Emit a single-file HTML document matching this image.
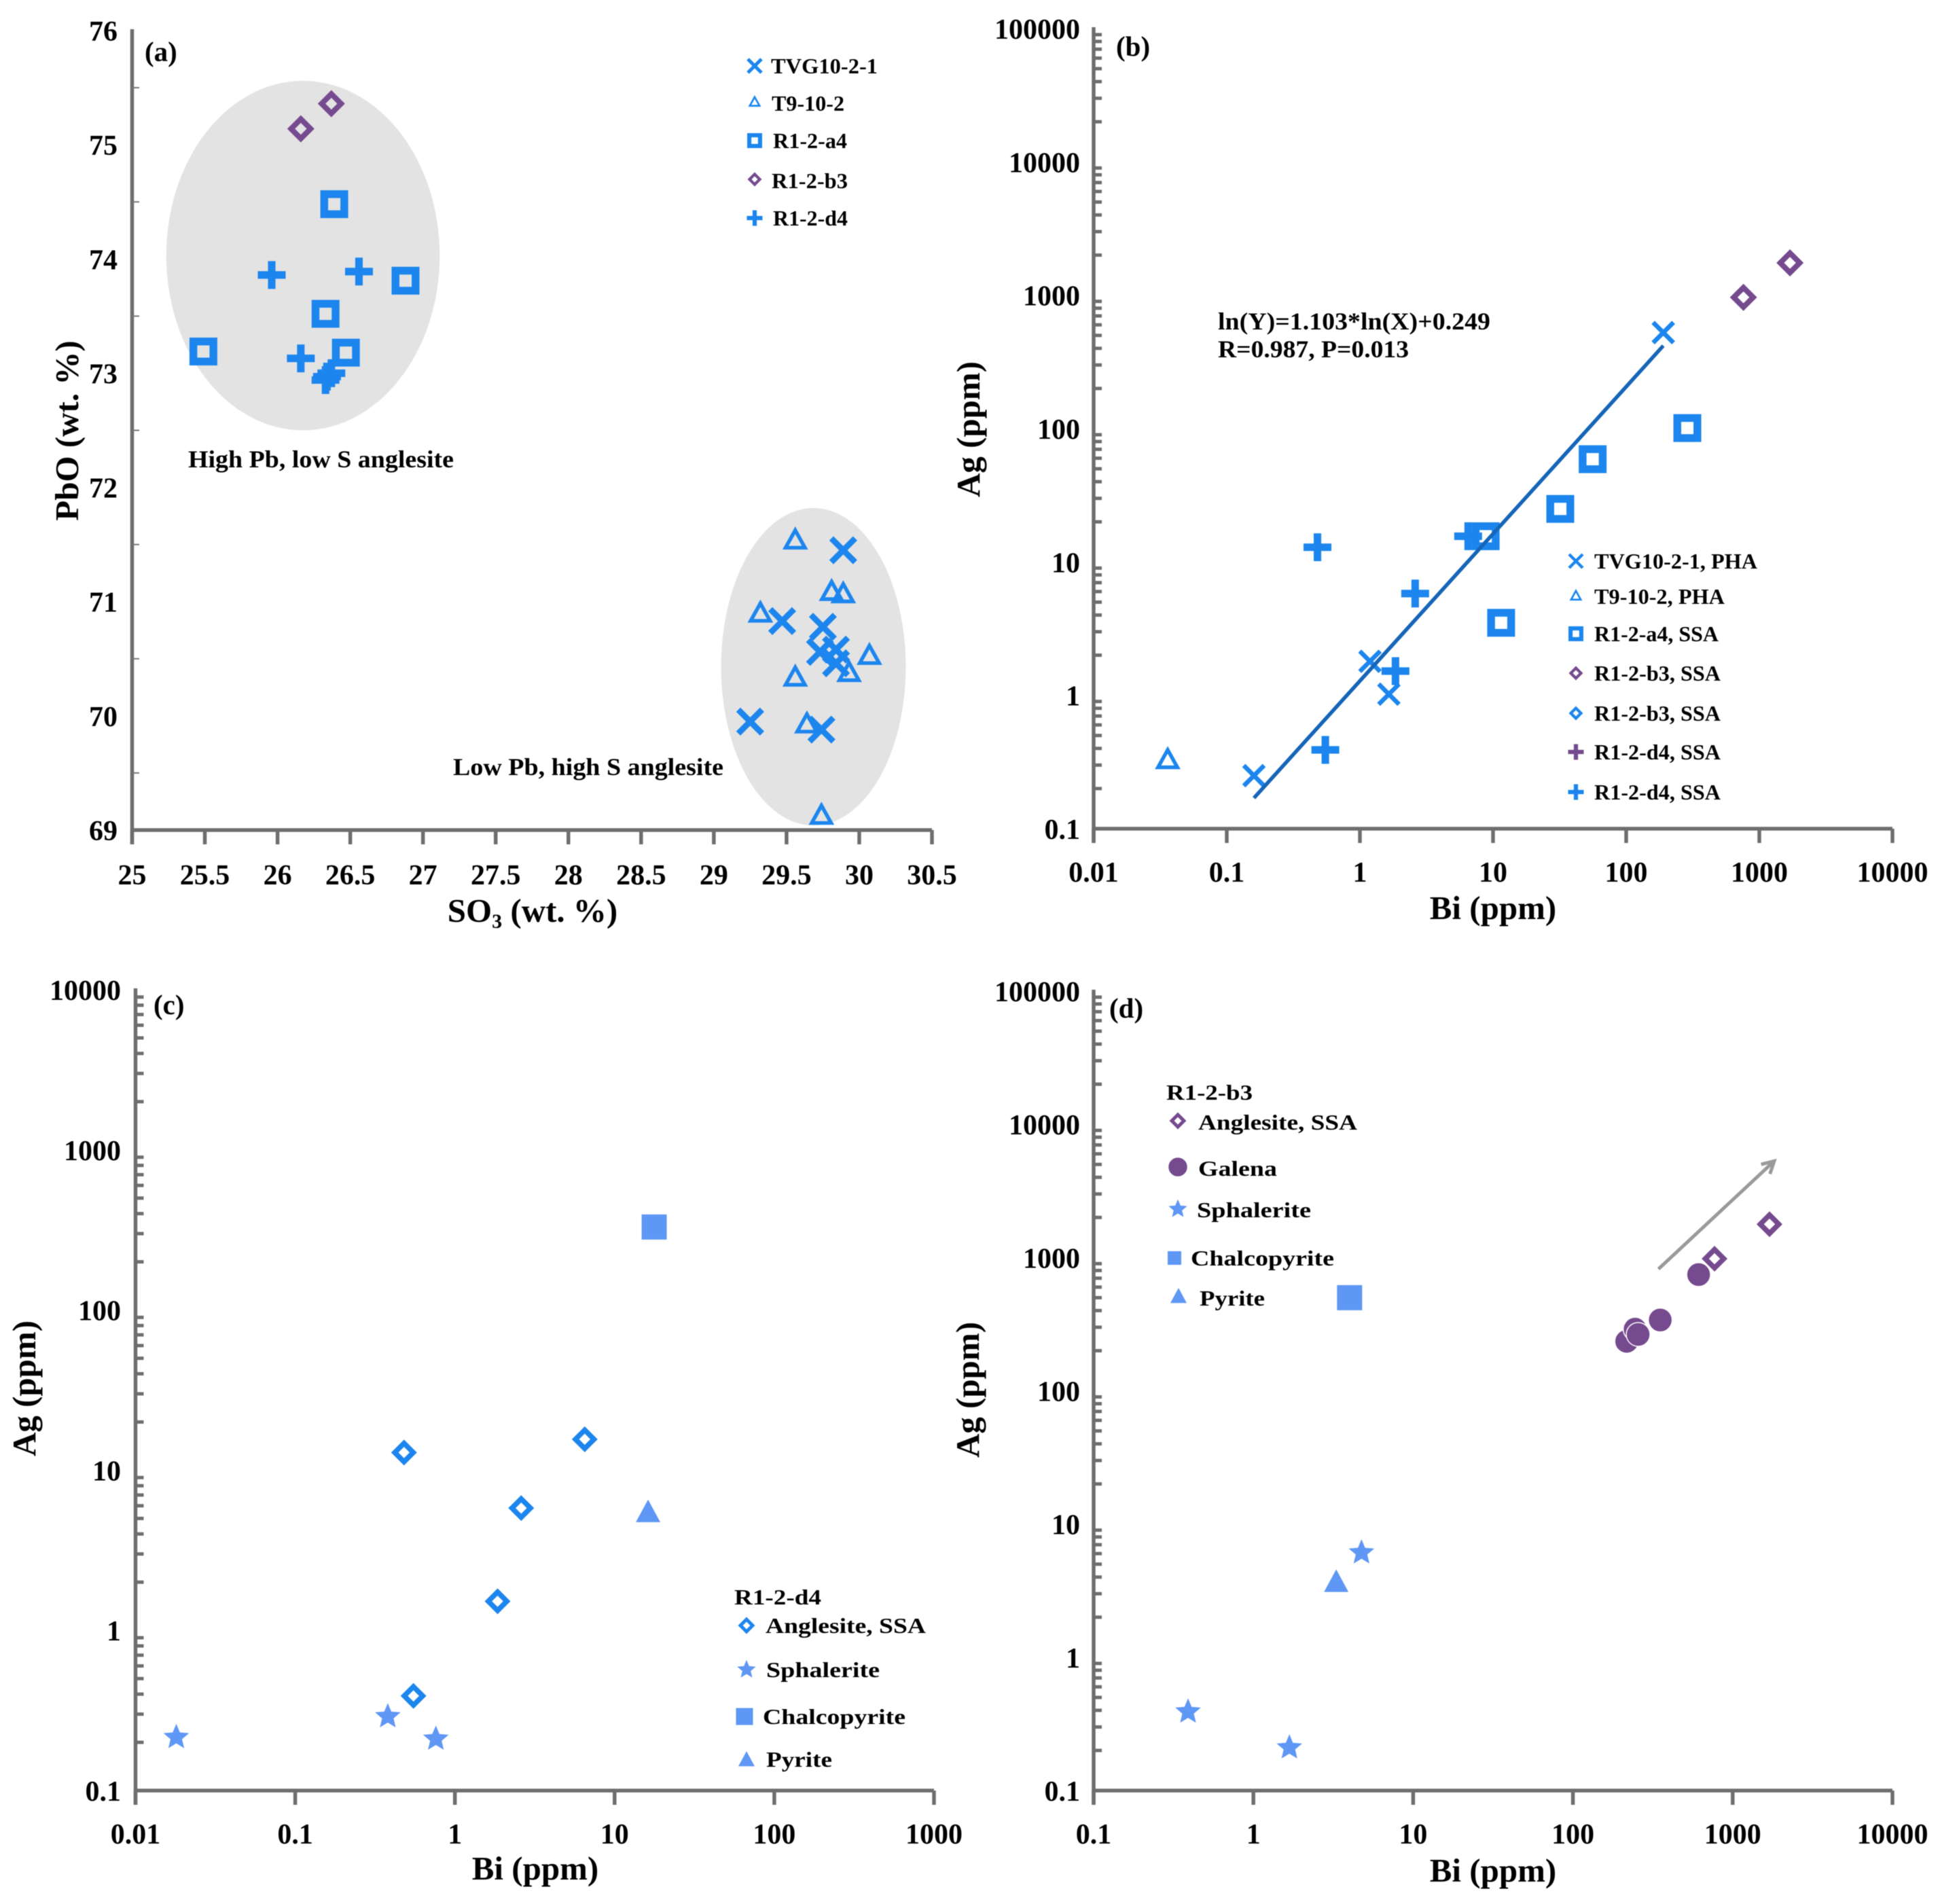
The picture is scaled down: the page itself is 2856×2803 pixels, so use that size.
<!DOCTYPE html>
<html lang="en">
<head>
<meta charset="utf-8">
<title>Anglesite geochemistry scatter plots</title>
<style>
html,body{margin:0;padding:0;background:#fff;}
svg{display:block;filter:blur(0.6px);}
text{font-family:"Liberation Serif","Times New Roman",serif;fill:#000;font-weight:bold;}
.tick{font-size:42px;}
.title{font-size:49px;}
.lab{font-size:41px;}
.leg{font-size:32px;}
.ann{font-size:36px;}
</style>
</head>
<body>
<svg id="fig" xmlns="http://www.w3.org/2000/svg" width="2856" height="2803" viewBox="0 0 2856 2803">
<rect width="2856" height="2803" fill="#fff"/>
<g id="marks"></g>

<g>
<text class="lab" x="213" y="90">(a)</text>
<text class="title" x="784" y="1357" text-anchor="middle">SO<tspan font-size="30" dy="9">3</tspan><tspan dy="-9"> (wt. %)</tspan></text>
<text class="title" transform="translate(115,634) rotate(-90)" text-anchor="middle">PbO (wt. %)</text>
<text class="ann" x="277" y="688" textLength="391" lengthAdjust="spacingAndGlyphs">High Pb, low S anglesite</text>
<text class="ann" x="667" y="1141" textLength="398" lengthAdjust="spacingAndGlyphs">Low Pb, high S anglesite</text>
<text class="leg" x="1135" y="108" textLength="157" lengthAdjust="spacingAndGlyphs">TVG10-2-1</text>
<text class="leg" x="1136" y="163" textLength="107" lengthAdjust="spacingAndGlyphs">T9-10-2</text>
<text class="leg" x="1138" y="218" textLength="109" lengthAdjust="spacingAndGlyphs">R1-2-a4</text>
<text class="leg" x="1136" y="277" textLength="112" lengthAdjust="spacingAndGlyphs">R1-2-b3</text>
<text class="leg" x="1138" y="332" textLength="110" lengthAdjust="spacingAndGlyphs">R1-2-d4</text>
</g>

<g>
<text class="lab" x="1643" y="82">(b)</text>
<text class="title" x="2198" y="1353" text-anchor="middle">Bi (ppm)</text>
<text class="title" transform="translate(1442,632) rotate(-90)" text-anchor="middle">Ag (ppm)</text>
<text class="ann" x="1793" y="485" textLength="401" lengthAdjust="spacingAndGlyphs">ln(Y)=1.103*ln(X)+0.249</text>
<text class="ann" x="1793" y="526" textLength="281" lengthAdjust="spacingAndGlyphs">R=0.987, P=0.013</text>
<text class="leg" x="2347" y="837" textLength="240" lengthAdjust="spacingAndGlyphs">TVG10-2-1, PHA</text>
<text class="leg" x="2347" y="889" textLength="192" lengthAdjust="spacingAndGlyphs">T9-10-2, PHA</text>
<text class="leg" x="2347" y="944" textLength="183" lengthAdjust="spacingAndGlyphs">R1-2-a4, SSA</text>
<text class="leg" x="2347" y="1002" textLength="186" lengthAdjust="spacingAndGlyphs">R1-2-b3, SSA</text>
<text class="leg" x="2347" y="1061" textLength="186" lengthAdjust="spacingAndGlyphs">R1-2-b3, SSA</text>
<text class="leg" x="2347" y="1118" textLength="186" lengthAdjust="spacingAndGlyphs">R1-2-d4, SSA</text>
<text class="leg" x="2347" y="1177" textLength="186" lengthAdjust="spacingAndGlyphs">R1-2-d4, SSA</text>
</g>

<g>
<text class="lab" x="226" y="1493">(c)</text>
<text class="title" x="788" y="2767" text-anchor="middle">Bi (ppm)</text>
<text class="title" transform="translate(52,2044) rotate(-90)" text-anchor="middle">Ag (ppm)</text>
<text class="leg" x="1081" y="2362" textLength="128" lengthAdjust="spacingAndGlyphs">R1-2-d4</text>
<text class="leg" x="1127" y="2404" textLength="236" lengthAdjust="spacingAndGlyphs">Anglesite, SSA</text>
<text class="leg" x="1128" y="2469" textLength="167" lengthAdjust="spacingAndGlyphs">Sphalerite</text>
<text class="leg" x="1123" y="2538" textLength="210" lengthAdjust="spacingAndGlyphs">Chalcopyrite</text>
<text class="leg" x="1128" y="2601" textLength="97" lengthAdjust="spacingAndGlyphs">Pyrite</text>
</g>

<g>
<text class="lab" x="1633" y="1498">(d)</text>
<text class="title" x="2198" y="2770" text-anchor="middle">Bi (ppm)</text>
<text class="title" transform="translate(1441,2046) rotate(-90)" text-anchor="middle">Ag (ppm)</text>
<text class="leg" x="1717" y="1619" textLength="127" lengthAdjust="spacingAndGlyphs">R1-2-b3</text>
<text class="leg" x="1764" y="1663" textLength="234" lengthAdjust="spacingAndGlyphs">Anglesite, SSA</text>
<text class="leg" x="1764" y="1731" textLength="116" lengthAdjust="spacingAndGlyphs">Galena</text>
<text class="leg" x="1762" y="1792" textLength="168" lengthAdjust="spacingAndGlyphs">Sphalerite</text>
<text class="leg" x="1753" y="1863" textLength="211" lengthAdjust="spacingAndGlyphs">Chalcopyrite</text>
<text class="leg" x="1766" y="1922" textLength="96" lengthAdjust="spacingAndGlyphs">Pyrite</text>
</g>
</svg>

<script>
// ---- Panel (a) data: SO3 vs PbO ----
const aTicksX = [25, 25.5, 26, 26.5, 27, 27.5, 28, 28.5, 29, 29.5, 30, 30.5];
const aTicksY = [69, 70, 71, 72, 73, 74, 75, 76];
const aMinorY = [69.5, 70.5, 71.5, 72.5, 73.5, 74.5, 75.5];
const aTvgX = [29.89, 29.47, 29.75, 29.73, 29.84, 29.84, 29.25, 29.74];
const aTvgY = [71.45, 70.83, 70.78, 70.56, 70.58, 70.46, 69.95, 69.88];
const aT9X = [29.56, 29.81, 29.89, 29.32, 30.07, 29.93, 29.56, 29.64, 29.74];
const aT9Y = [71.54, 71.09, 71.07, 70.90, 70.53, 70.38, 70.34, 69.93, 69.13];
const aA4X = [25.49, 26.39, 26.88, 26.33, 26.47];
const aA4Y = [73.19, 74.48, 73.81, 73.52, 73.18];
const aB3X = [26.16, 26.37];
const aB3Y = [75.14, 75.36];
const aD4X = [25.96, 26.56, 26.16, 26.37, 26.34, 26.33];
const aD4Y = [73.86, 73.89, 73.13, 73.0, 72.97, 72.94];
const aFieldCx = [26.175, 29.685];
const aFieldCy = [74.03, 70.43];
const aFieldRx = [0.94, 0.635];
const aFieldRy = [1.53, 1.39];

// ---- Panel (b) data: Bi vs Ag ----
const bTicksX = [0.01, 0.1, 1, 10, 100, 1000, 10000];
const bTicksY = [0.1, 1, 10, 100, 1000, 10000, 100000];
const bTvgX = [190, 1.19, 1.65, 0.16];
const bTvgY = [525, 1.8, 1.02, 0.25];
const bT9X = [0.036];
const bT9Y = [0.33];
const bA4X = [288, 56, 32, 8.8, 11.5];
const bA4Y = [101, 59, 25, 15.6, 3.5];
const bB3X = [760, 1700];
const bB3Y = [965, 1750];
const bD4X = [0.48, 0.55, 1.85, 2.6, 6.5];
const bD4Y = [12.9, 0.39, 1.52, 5.8, 15.6];
const bTrendX = [0.16, 190];
const bTrendSlope = 1.103;
const bTrendIntercept = 0.249;

// ---- Panel (c) data: R1-2-d4 ----
const cTicksX = [0.01, 0.1, 1, 10, 100, 1000];
const cTicksY = [0.1, 1, 10, 100, 1000, 10000];
const cAngX = [0.48, 0.55, 1.85, 2.6, 6.5];
const cAngY = [12.9, 0.39, 1.52, 5.8, 15.6];
const cSphX = [0.018, 0.38, 0.76];
const cSphY = [0.215, 0.29, 0.21];
const cCcpX = [17.7];
const cCcpY = [330];
const cPyX = [16.2];
const cPyY = [5.5];

// ---- Panel (d) data: R1-2-b3 ----
const dTicksX = [0.1, 1, 10, 100, 1000, 10000];
const dTicksY = [0.1, 1, 10, 100, 1000, 10000, 100000];
const dAngX = [770, 1700];
const dAngY = [980, 1780];
const dGnX = [612, 352, 217, 245, 256];
const dGnY = [745, 340, 235, 290, 265];
const dSphX = [4.75, 0.39, 1.68];
const dSphY = [6.1, 0.39, 0.21];
const dCcpX = [4.0];
const dCcpY = [500];
const dPyX = [3.3];
const dPyY = [3.7];
const dArrowX = [343, 1820];
const dArrowY = [820, 5300];

// ---- Colours ----
const BLUE = '#1c86ee', PURPLE = '#764a8e', LIGHT = '#5f97f5', AXIS = '#6e6e6e', TREND = '#1565b8', FIELD = '#e3e3e3';

const NS = 'http://www.w3.org/2000/svg';
const root = document.getElementById('marks');

function make(tag, attrs, parent) {
  const el = document.createElementNS(NS, tag);
  for (const k in attrs) el.setAttribute(k, attrs[k]);
  (parent || root).appendChild(el);
  return el;
}

function linScale(d0, d1, p0, p1) {
  return v => p0 + (v - d0) / (d1 - d0) * (p1 - p0);
}
function logScale(d0, d1, p0, p1) {
  return v => p0 + (Math.log10(v) - Math.log10(d0)) / (Math.log10(d1) - Math.log10(d0)) * (p1 - p0);
}

function axisLine(x1, y1, x2, y2, w, color) {
  const el = make('line', {x1: x1, y1: y1, x2: x2, y2: y2, stroke: color || AXIS, 'stroke-width': w});
  
  
  return el;
}
function tickMark(x1, y1, x2, y2, w, color) {
  const el = make('line', {x1: x1, y1: y1, x2: x2, y2: y2, stroke: color || AXIS, 'stroke-width': w});
  
  
  return el;
}
function tickText(x, y, anchor, value) {
  const el = make('text', {x: x, y: y, 'text-anchor': anchor, class: 'tick'});
  el.textContent = String(value);
  
  
  return el;
}

function drawAxes(px0, px1, py0, pyTop, sx, sy, ticksX, ticksY, labelRight, labelBase) {
  axisLine(px0, pyTop - 2, px0, py0 + 21, 5.5);
  axisLine(px0, py0, px1, py0, 5.5);
  ticksX.forEach(v => {
    tickMark(sx(v), py0, sx(v), py0 + 21, 5.5);
    tickText(sx(v), labelBase, 'middle', v);
  });
  ticksY.forEach(v => {
    tickText(labelRight, sy(v) + 15, 'end', v);
  });
}
function drawLogMinors(px0, sy, ticksY) {
  ticksY.slice(0, -1).forEach(dec => {
    [2, 3, 4, 5, 6, 7, 8, 9].forEach(m => {
      const yy = sy(dec * m);
      tickMark(px0, yy, px0 + 12, yy, 5);
    });
  });
}

function marker(kind, cx, cy, s, color, name) {
  let el;
  if (kind === 'cross') {
    const r = s * 0.5, w = s * 0.25;
    el = make('path', {d: `M${cx - r} ${cy - r}L${cx + r} ${cy + r}M${cx - r} ${cy + r}L${cx + r} ${cy - r}`, stroke: color, 'stroke-width': w, fill: 'none'});
  } else if (kind === 'crossThin') {
    const r = s * 0.5, w = s * 0.22;
    el = make('path', {d: `M${cx - r} ${cy - r}L${cx + r} ${cy + r}M${cx - r} ${cy + r}L${cx + r} ${cy - r}`, stroke: color, 'stroke-width': w, fill: 'none'});
  } else if (kind === 'plus') {
    const r = s * 0.5, w = s * 0.27;
    el = make('path', {d: `M${cx - r} ${cy}L${cx + r} ${cy}M${cx} ${cy - r}L${cx} ${cy + r}`, stroke: color, 'stroke-width': w, fill: 'none'});
  } else if (kind === 'square') {
    const w = s * 0.28, m = s - w;
    el = make('rect', {x: cx - m / 2, y: cy - m / 2, width: m, height: m, stroke: color, 'stroke-width': w, fill: 'none'});
  } else if (kind === 'diamond') {
    const w = s * 0.2, r = s * 0.5 - w * 0.707;
    el = make('polygon', {points: `${cx},${cy - r} ${cx + r},${cy} ${cx},${cy + r} ${cx - r},${cy}`, stroke: color, 'stroke-width': w, fill: 'none'});
  } else if (kind === 'triangle') {
    const w = s * 0.16, r = s * 0.42;
    el = make('polygon', {points: `${cx},${cy - r} ${cx + r},${cy + r * 0.8} ${cx - r},${cy + r * 0.8}`, stroke: color, 'stroke-width': w, fill: 'none'});
  } else if (kind === 'solidTriangle') {
    const r = s * 0.5;
    el = make('polygon', {points: `${cx},${cy - r} ${cx + r},${cy + r * 0.85} ${cx - r},${cy + r * 0.85}`, fill: color});
  } else if (kind === 'solidSquare') {
    el = make('rect', {x: cx - s / 2, y: cy - s / 2, width: s, height: s, fill: color});
  } else if (kind === 'circle') {
    el = make('circle', {cx: cx, cy: cy, r: s / 2, fill: color, stroke: '#fff', 'stroke-width': 1.5});
  } else {
    const pts = [];
    for (let i = 0; i < 10; i++) {
      const r = i % 2 ? s * 0.27 : s * 0.6;
      const a = -Math.PI / 2 + i * Math.PI / 5;
      pts.push((cx + r * Math.cos(a)).toFixed(1) + ',' + (cy + r * Math.sin(a)).toFixed(1));
    }
    el = make('polygon', {points: pts.join(' '), fill: color});
  }
  
  
  return el;
}

function series(kind, xs, ys, sx, sy, s, color, name) {
  xs.forEach((v, i) => marker(kind, sx(v), sy(ys[i]), s, color, name));
}

// ---- Panel (a) ----
const ax = linScale(25, 30.5, 194.5, 1372);
const ay = linScale(69, 76, 1222, 45);
aFieldCx.forEach((c, i) => {
  const el = make('ellipse', {
    cx: ax(c),
    cy: ay(aFieldCy[i]),
    rx: ax(c + aFieldRx[i]) - ax(c),
    ry: ay(aFieldCy[i]) - ay(aFieldCy[i] + aFieldRy[i]),
    fill: FIELD
  });
  
  
});
drawAxes(194.5, 1372, 1222, 45, ax, ay, aTicksX, aTicksY, 173, 1302);
aMinorY.forEach(v => tickMark(194.5, ay(v), 205, ay(v), 2, '#777'));
series('square', aA4X, aA4Y, ax, ay, 41, BLUE, 'a-point-r1-2-a4');
series('diamond', aB3X, aB3Y, ax, ay, 40, PURPLE, 'a-point-r1-2-b3');
series('plus', aD4X, aD4Y, ax, ay, 41, BLUE, 'a-point-r1-2-d4');
series('cross', aTvgX, aTvgY, ax, ay, 35, BLUE, 'a-point-tvg10-2-1');
series('triangle', aT9X, aT9Y, ax, ay, 34, BLUE, 'a-point-t9-10-2');
marker('cross', 1111, 97, 20, BLUE, 'legend-a-tvg-marker');
marker('triangle', 1111, 150, 17, BLUE, 'legend-a-t9-marker');
marker('square', 1111, 207, 22, BLUE, 'legend-a-a4-marker');
marker('diamond', 1111, 264, 21, PURPLE, 'legend-a-b3-marker');
marker('plus', 1111, 321, 23, BLUE, 'legend-a-d4-marker');

// ---- Panel (b) ----
const bx = logScale(0.01, 10000, 1610, 2786);
const by = logScale(0.1, 100000, 1220, 42);
drawAxes(1610, 2786, 1220, 42, bx, by, bTicksX, bTicksY, 1590, 1298);
drawLogMinors(1610, by, bTicksY);
series('plus', bD4X, bD4Y, bx, by, 41, BLUE, 'b-point-r1-2-d4');
series('square', bA4X, bA4Y, bx, by, 41, BLUE, 'b-point-r1-2-a4');
series('diamond', bB3X, bB3Y, bx, by, 40, PURPLE, 'b-point-r1-2-b3');
series('crossThin', bTvgX, bTvgY, bx, by, 30, BLUE, 'b-point-tvg10-2-1');
series('triangle', bT9X, bT9Y, bx, by, 34, BLUE, 'b-point-t9-10-2');
const trendLine = make('line', {
  x1: bx(bTrendX[0]),
  y1: by(Math.exp(bTrendSlope * Math.log(bTrendX[0]) + bTrendIntercept)),
  x2: bx(bTrendX[1]),
  y2: by(Math.exp(bTrendSlope * Math.log(bTrendX[1]) + bTrendIntercept)),
  stroke: TREND,
  'stroke-width': 5.5
});


marker('crossThin', 2320, 826, 20, BLUE, 'legend-b-tvg-marker');
marker('triangle', 2320, 877, 17, BLUE, 'legend-b-t9-marker');
marker('square', 2320, 933, 22, BLUE, 'legend-b-a4-marker');
marker('diamond', 2320, 991, 21, PURPLE, 'legend-b-b3-purple-marker');
marker('diamond', 2320, 1050, 21, BLUE, 'legend-b-b3-blue-marker');
marker('plus', 2320, 1107, 23, PURPLE, 'legend-b-d4-purple-marker');
marker('plus', 2320, 1166, 23, BLUE, 'legend-b-d4-blue-marker');

// ---- Panel (c) ----
const cx_ = logScale(0.01, 1000, 199.5, 1375);
const cy_ = logScale(0.1, 10000, 2636, 1457);
drawAxes(199.5, 1375, 2636, 1457, cx_, cy_, cTicksX, cTicksY, 178, 2714);
drawLogMinors(199.5, cy_, cTicksY);
series('diamond', cAngX, cAngY, cx_, cy_, 38, BLUE, 'c-point-anglesite');
series('star', cSphX, cSphY, cx_, cy_, 33, LIGHT, 'c-point-sphalerite');
series('solidSquare', cCcpX, cCcpY, cx_, cy_, 37, LIGHT, 'c-point-chalcopyrite');
series('solidTriangle', cPyX, cPyY, cx_, cy_, 36, LIGHT, 'c-point-pyrite');
marker('diamond', 1099, 2393, 25, BLUE, 'legend-c-anglesite-marker');
marker('star', 1099, 2458, 24, LIGHT, 'legend-c-sphalerite-marker');
marker('solidSquare', 1096, 2527, 25, LIGHT, 'legend-c-chalcopyrite-marker');
marker('solidTriangle', 1099, 2590, 24, LIGHT, 'legend-c-pyrite-marker');

// ---- Panel (d) ----
const dx = logScale(0.1, 10000, 1610, 2786);
const dy = logScale(0.1, 100000, 2636, 1459);
drawAxes(1610, 2786, 2636, 1459, dx, dy, dTicksX, dTicksY, 1590, 2714);
drawLogMinors(1610, dy, dTicksY);
series('circle', dGnX, dGnY, dx, dy, 35, PURPLE, 'd-point-galena');
series('diamond', dAngX, dAngY, dx, dy, 38, PURPLE, 'd-point-anglesite');
series('star', dSphX, dSphY, dx, dy, 33, LIGHT, 'd-point-sphalerite');
series('solidSquare', dCcpX, dCcpY, dx, dy, 37, LIGHT, 'd-point-chalcopyrite');
series('solidTriangle', dPyX, dPyY, dx, dy, 36, LIGHT, 'd-point-pyrite');
marker('diamond', 1734, 1650, 25, PURPLE, 'legend-d-anglesite-marker');
marker('circle', 1734, 1718, 29, PURPLE, 'legend-d-galena-marker');
marker('star', 1734, 1780, 24, LIGHT, 'legend-d-sphalerite-marker');
marker('solidSquare', 1729, 1852, 20, LIGHT, 'legend-d-chalcopyrite-marker');
marker('solidTriangle', 1735, 1908, 24, LIGHT, 'legend-d-pyrite-marker');

const ax0 = dx(dArrowX[0]), ay0 = dy(dArrowY[0]), ax1 = dx(dArrowX[1]), ay1 = dy(dArrowY[1]);
const arrowAngle = Math.atan2(ay1 - ay0, ax1 - ax0);
const arrowShaft = make('line', {x1: ax0, y1: ay0, x2: ax1, y2: ay1, stroke: '#9a9a9a', 'stroke-width': 5});


const arrowHead = make('path', {
  d: `M${ax1 - 20 * Math.cos(arrowAngle - 0.5)} ${ay1 - 20 * Math.sin(arrowAngle - 0.5)}L${ax1} ${ay1}L${ax1 - 20 * Math.cos(arrowAngle + 0.5)} ${ay1 - 20 * Math.sin(arrowAngle + 0.5)}`,
  stroke: '#9a9a9a',
  'stroke-width': 5,
  fill: 'none'
});


</script>
</body>
</html>
